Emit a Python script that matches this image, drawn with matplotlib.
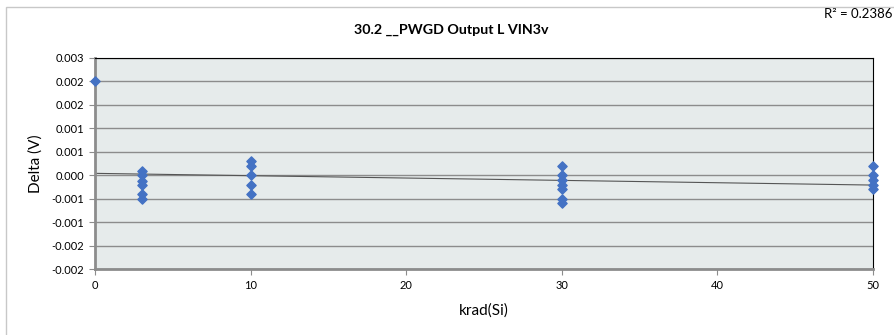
import matplotlib.pyplot as plt
from matplotlib.patches import Rectangle

plt.rcParams['font.family'] = ['Lato', 'DejaVu Sans']

# measured deltas (V) per dose level, krad(Si)
dose = [0, 3, 3, 3, 3, 3, 3, 10, 10, 10, 10, 10,
        30, 30, 30, 30, 30, 30, 30, 50, 50, 50, 50, 50]
delta = [0.002,
         0.0001, 0.0, -0.00012, -0.0002, -0.0004, -0.0005,
         0.0003, 0.0002, 0.0, -0.0002, -0.0004,
         0.0002, 0.0, -0.0001, -0.0002, -0.0003, -0.0005, -0.0006,
         0.0002, 0.0, -0.0001, -0.0002, -0.0003]

# linear trend line as shown in the chart
trend_x = [0, 50]
trend_y = [0.00004, -0.00021]

yticks = [-0.002, -0.0015, -0.001, -0.0005, 0.0, 0.0005, 0.001, 0.0015, 0.002, 0.0025]
ytick_labels = ['-0.002', '-0.002', '-0.001', '-0.001', '0.000', '0.001', '0.001', '0.002', '0.002', '0.003']
xticks = [0, 10, 20, 30, 40, 50]

fig = plt.figure(figsize=(8.95, 3.35), dpi=100)
fig.patches.append(Rectangle((6 / 895, -0.1), 1.1, 1 - 7 / 335 + 0.1,
                             transform=fig.transFigure, fill=False,
                             edgecolor='#c8c8c8', linewidth=1))

ax = fig.add_axes([95 / 895, 1 - 269 / 335, (873 - 95) / 895, (269 - 58) / 335])
ax.set_facecolor('#e6ebeb')

for y in yticks:
    ax.axhline(y, color='#8c8c8c', linewidth=1, zorder=1)

ax.plot(trend_x, trend_y, color='#555555', linewidth=0.8, zorder=2)
ax.scatter(dose, delta, marker='D', s=22, color='#4472c4', zorder=3, clip_on=False)

ax.set_xlim(0, 50)
ax.set_ylim(-0.002, 0.0025)
ax.set_xticks(xticks)
ax.set_xticklabels([str(x) for x in xticks], fontsize=8)
ax.set_yticks(yticks)
ax.set_yticklabels(ytick_labels, fontsize=8)
ax.tick_params(axis='both', length=4, width=0.8, color='#8c8c8c', pad=4)

ax.spines['top'].set_color('black')
ax.spines['right'].set_color('black')
ax.spines['left'].set_color('#8c8c8c')
ax.spines['bottom'].set_color('#8c8c8c')
ax.spines['left'].set_linewidth(2)
ax.spines['bottom'].set_linewidth(2)

ax.set_xlabel('krad(Si)', fontsize=11, labelpad=9)
ax.set_ylabel('Delta (V)', fontsize=11, labelpad=6)

fig.text(451 / 895, 1 - 30 / 335, '30.2 __PWGD Output L VIN3v', ha='center', va='center',
         fontsize=10.3, fontweight='bold')
fig.text(893 / 895, 1 - 14 / 335, 'R² = 0.2386', ha='right', va='center', fontsize=9.5)

fig.savefig('out.png', dpi=100)
